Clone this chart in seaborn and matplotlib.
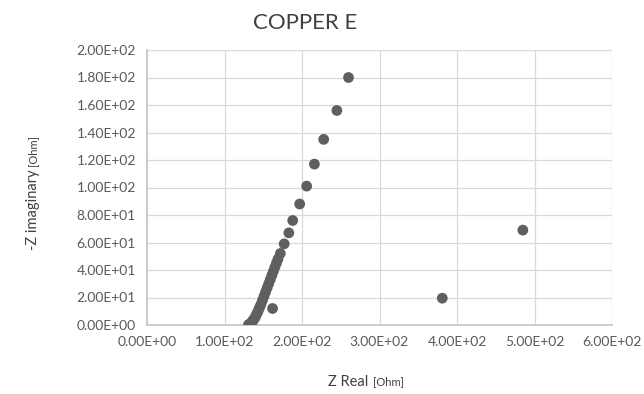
import matplotlib
matplotlib.use("Agg")
import matplotlib.pyplot as plt
import seaborn as sns
import pandas as pd
import numpy as np

# Data
z_real = [260, 245, 228, 216, 206, 197, 188, 183, 177, 172,
          169, 167, 165, 163, 161, 159, 157, 155, 153, 151,
          149, 147, 145.5, 144, 142.5, 141, 140, 139, 137.5, 136.5,
          135.5, 134.5, 133.5, 132.5, 131.5, 131,
          162, 381, 485]
z_imag = [180, 156, 135, 117, 101, 88, 76, 67, 59, 52,
          48, 45, 42, 39, 36, 33, 30, 27, 24, 21,
          18, 15, 13, 11, 9, 7.5, 6, 5, 4, 3,
          2.3, 1.6, 1.0, 0.6, 0.3, 0.1,
          12, 19.5, 69]
x_ticks = [0, 100, 200, 300, 400, 500, 600]
y_ticks = [0, 20, 40, 60, 80, 100, 120, 140, 160, 180, 200]
title = "COPPER E"

df = pd.DataFrame({"zr": z_real, "zi": z_imag})

sns.set_theme(style="white")
plt.rcParams['font.family'] = ['Lato', 'DejaVu Sans']

fig = plt.figure(figsize=(6.44, 3.94), dpi=100)
ax = fig.add_axes([147/644, 1-325/394, (612-147)/644, (325-50)/394])

sns.scatterplot(data=df, x="zr", y="zi", ax=ax, color="#5f5f5f", s=60,
                edgecolor="none", linewidth=0, zorder=3)

ax.set_xlim(0, 600)
ax.set_ylim(0, 200)
ax.set_xticks(x_ticks)
ax.set_yticks(y_ticks)
ax.set_xticklabels([f"{v:.2E}" for v in x_ticks])
ax.set_yticklabels([f"{v:.2E}" for v in y_ticks])
ax.tick_params(axis="both", labelsize=10, labelcolor="#595959", colors="#d0d0d0")
ax.tick_params(axis="y", length=5, width=0.8, direction="out", pad=3)
ax.tick_params(axis="x", length=0, pad=8)
ax.grid(True, color="#d9d9d9", linewidth=0.9)
ax.set_axisbelow(True)
for s in ["top", "right"]:
    ax.spines[s].set_visible(False)
ax.spines["left"].set_color("#c8c8c8")
ax.spines["bottom"].set_color("#c8c8c8")
ax.set_xlabel("")
ax.set_ylabel("")

fig.text(305/644, 1-23/394, title, ha="center", va="center", fontsize=16, color="#404040")

# X axis label with smaller unit
fig.text(372/644, 1-382/394, "Z Real ", ha="right", va="center", fontsize=10.5, color="#404040")
fig.text(373/644, 1-382/394, "[Ohm]", ha="left", va="center", fontsize=8, color="#404040")
# Y axis label with smaller unit
fig.text(33/644, 1-250/394, "-Z imaginary", ha="center", va="bottom", rotation=90,
         fontsize=10.5, color="#404040")
fig.text(33/644, 1-166/394, "[Ohm]", ha="center", va="bottom", rotation=90,
         fontsize=8, color="#404040")

fig.savefig("out.png", dpi=100)
